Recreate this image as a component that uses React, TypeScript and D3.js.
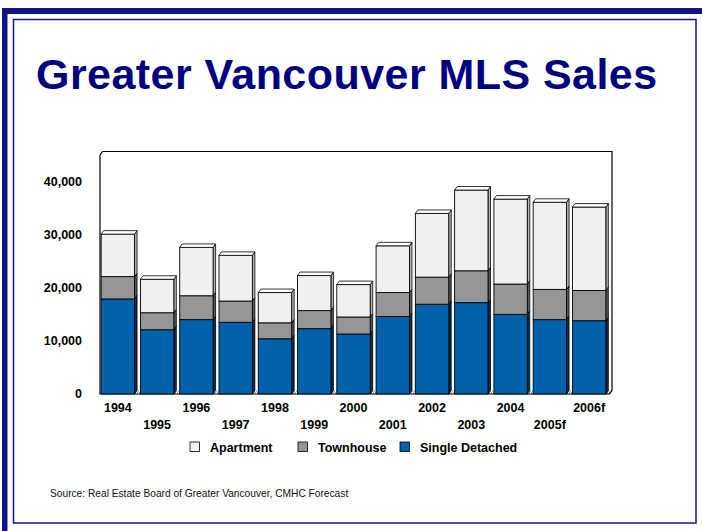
import React, { useEffect } from 'react';
import * as d3 from 'd3';

// MLS sales by type
const years = ['1994', '1995', '1996', '1997', '1998', '1999', '2000', '2001', '2002', '2003', '2004', '2005f', '2006f'];
const singleDetached = [17900, 12100, 14000, 13500, 10400, 12300, 11300, 14600, 16900, 17200, 15000, 14000, 13800];
const townhouse = [4200, 3200, 4500, 4000, 3000, 3400, 3200, 4500, 5100, 6000, 5700, 5700, 5700];
const apartment = [8000, 6300, 9100, 8600, 5700, 6600, 6100, 8800, 12000, 15200, 16000, 16400, 15700];
const yTicks = [0, 10000, 20000, 30000, 40000];
const seriesKeys = ['single', 'town', 'apt'];

const W = 702;
const H = 531;
const DX = 2.5;
const DY = 3.5;
const FONT = "'Liberation Sans', Arial, sans-serif";
const NAVY = '#14148a';

const faces: Record<string, { front: string; side: string }> = {
  single: { front: '#0061ad', side: '#00305c' },
  town: { front: '#969696', side: '#5a5a5a' },
  apt: { front: '#f0f0f0', side: '#b8b8b8' },
};

const legendItems = [
  { key: 'apt', label: 'Apartment', x: 190 },
  { key: 'town', label: 'Townhouse', x: 298 },
  { key: 'single', label: 'Single Detached', x: 400 },
];

const App: React.FC = () => {
  useEffect(() => {
    document.body.style.margin = '0';
  }, []);

  const rows = years.map((yr, i) => ({
    year: yr,
    single: singleDetached[i],
    town: townhouse[i],
    apt: apartment[i],
  }));
  const stacked = d3.stack<any>().keys(seriesKeys)(rows);

  const x = d3.scaleBand<string>().domain(years).range([100, 607]).paddingInner(0.15).paddingOuter(0.03);
  const y = d3.scaleLinear().domain([0, 45000]).range([394, 155]);
  const bw = x.bandwidth();

  const x0 = 100;
  const x1 = 609.5;
  const yb = y(0);
  const yt = y(45000);

  return (
    <svg width={W} height={H} style={{ display: 'block', background: '#fff' }} fontFamily={FONT}>
      <defs>
        <pattern id="floor" width="4" height="4" patternUnits="userSpaceOnUse">
          <rect width="4" height="4" fill="#ffffff" />
          <path d="M0,4 L2,0 M2,4 L4,0" stroke="#777" strokeWidth="0.8" />
        </pattern>
      </defs>

      {/* slide frame */}
      <rect x={2} y={8} width={W - 2} height={6} fill={NAVY} />
      <rect x={2} y={8} width={5.5} height={H - 8} fill={NAVY} />
      <rect x={13.5} y={19.5} width={682.5} height={503.5} fill="none" stroke={NAVY} strokeWidth={1.5} />

      <text x={36} y={89} fontSize={43} fontWeight="bold" fill="#000080" letterSpacing={0.45}>
        Greater Vancouver MLS Sales
      </text>

      {/* floor and walls */}
      <path
        d={`M${x0},${yb} L${x0 + DX},${yb - DY} L${x1 + DX},${yb - DY} L${x1},${yb} Z`}
        fill="url(#floor)"
        stroke="none"
      />
      <path
        d={`M${x0},${yb} L${x0},${yt} L${x0 + DX},${yt - DY} L${x1 + DX},${yt - DY} L${x1 + DX},${yb - DY} L${x1},${yb} Z`}
        fill="none"
        stroke="#000"
        strokeWidth={1.2}
      />

      {/* 3D stacked columns */}
      {years.map((yr, i) => {
        const bx = x(yr) as number;
        return (
          <g key={yr}>
            {stacked.map((s, si) => {
              const [v0, v1] = s[i];
              const top = y(v1);
              const bot = y(v0);
              const f = faces[s.key];
              const isTop = si === stacked.length - 1;
              return (
                <g key={s.key}>
                  <path
                    d={`M${bx + bw},${top} L${bx + bw + DX},${top - DY} L${bx + bw + DX},${bot - DY} L${bx + bw},${bot} Z`}
                    fill={f.side}
                    stroke="#000"
                    strokeWidth={0.8}
                  />
                  <rect x={bx} y={top} width={bw} height={bot - top} fill={f.front} stroke="#000" strokeWidth={0.9} />
                  {isTop && (
                    <path
                      d={`M${bx},${top} L${bx + DX},${top - DY} L${bx + bw + DX},${top - DY} L${bx + bw},${top} Z`}
                      fill="#ffffff"
                      stroke="#000"
                      strokeWidth={0.8}
                    />
                  )}
                </g>
              );
            })}
          </g>
        );
      })}

      {/* y axis labels */}
      {yTicks.map((t) => (
        <text key={t} x={82} y={y(t)} dy="0.35em" textAnchor="end" fontSize={12.5} fontWeight="bold" fill="#000">
          {d3.format(',')(t)}
        </text>
      ))}

      {/* x axis labels, staggered */}
      {years.map((yr, i) => (
        <text
          key={yr}
          x={(x(yr) as number) + bw / 2}
          y={i % 2 === 0 ? 412 : 429}
          textAnchor="middle"
          fontSize={12.5}
          fontWeight="bold"
          fill="#000"
        >
          {yr}
        </text>
      ))}

      {/* legend */}
      {legendItems.map((l) => (
        <g key={l.key}>
          <rect x={l.x} y={442} width={9.5} height={9.5} fill={faces[l.key].front} stroke="#000" strokeWidth={0.8} />
          <text x={l.x + 20} y={451.5} fontSize={12.5} fontWeight="bold" fill="#000">
            {l.label}
          </text>
        </g>
      ))}

      <text x={50} y={497} fontSize={10.2} fill="#111">
        Source: Real Estate Board of Greater Vancouver, CMHC Forecast
      </text>
    </svg>
  );
};

export default App;
